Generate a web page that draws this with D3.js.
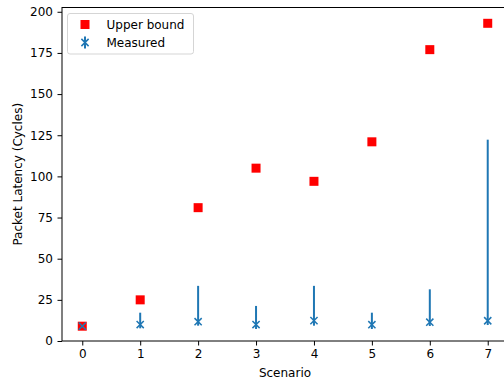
<!DOCTYPE html>
<html>
<head>
<meta charset="utf-8">
<script src="https://cdn.jsdelivr.net/npm/d3@7"></script>
<style>
  html, body { margin: 0; padding: 0; background: #fff; }
  svg { display: block; font-family: "DejaVu Sans", sans-serif; }
</style>
</head>
<body>
<svg id="chart" width="504" height="381"></svg>
<script>
const scenarios = [0, 1, 2, 3, 4, 5, 6, 7];
const upperBound = [9, 25, 81, 105, 97, 121, 177, 193];
const measured = [9, 10, 11.7, 10, 12.4, 9.9, 11.4, 12.3];
const measuredMin = [9, 7.7, 9.3, 7.3, 9.3, 7.3, 9.1, 9.7];
const measuredMax = [9, 17.2, 33.5, 21.3, 33.5, 17.2, 31.4, 122.3];
const yTicks = [0, 25, 50, 75, 100, 125, 150, 175, 200];
const xLabel = "Scenario";
const yLabel = "Packet Latency (Cycles)";
const legendLabels = ["Upper bound", "Measured"];

(function () {
const svg = d3.select("#chart");
const mLeft = 62, mRight = 508, mTop = 7.5, mBottom = 341;
const fs = 12;

const x = d3.scaleLinear().domain([-0.35, 7.35]).range([mLeft, mRight]);
const y = d3.scaleLinear().domain([0, 202.6]).range([mBottom, mTop]);

const blue = "#1f77b4";

// axes
const xAxis = svg.append("g").attr("transform", `translate(0,${mBottom})`)
  .call(d3.axisBottom(x).tickValues(scenarios).tickFormat(d3.format("d")).tickSizeOuter(0).tickSize(4.5).tickPadding(4));
const yAxis = svg.append("g").attr("transform", `translate(${mLeft},0)`)
  .call(d3.axisLeft(y).tickValues(yTicks).tickSizeOuter(0).tickSize(4.5).tickPadding(4.5));
[xAxis, yAxis].forEach(g => {
  g.select(".domain").remove();
  g.selectAll(".tick line").attr("stroke", "#000").attr("stroke-width", 1);
  g.selectAll(".tick text").attr("font-size", fs).attr("fill", "#000")
    .attr("font-family", "DejaVu Sans, sans-serif");
});

// spines
svg.append("rect").attr("x", mLeft).attr("y", mTop)
  .attr("width", mRight - mLeft).attr("height", mBottom - mTop)
  .attr("fill", "none").attr("stroke", "#000").attr("stroke-width", 1);

// axis labels
svg.append("text").attr("x", (mLeft + mRight) / 2).attr("y", 376.5)
  .attr("text-anchor", "middle").attr("font-size", fs).text(xLabel);
svg.append("text").attr("transform", `translate(22,${(mTop + mBottom) / 2}) rotate(-90)`)
  .attr("text-anchor", "middle").attr("font-size", fs).text(yLabel);

// upper bound squares
const sq = 9;
svg.append("g").selectAll("rect").data(scenarios).join("rect")
  .attr("x", (d, i) => x(d) - sq / 2)
  .attr("y", (d, i) => y(upperBound[i]) - sq / 2)
  .attr("width", sq).attr("height", sq)
  .attr("fill", "red");

// error bars
const eb = svg.append("g");
eb.selectAll("line").data(scenarios).join("line")
  .attr("x1", d => x(d)).attr("x2", d => x(d))
  .attr("y1", (d, i) => y(measuredMin[i]))
  .attr("y2", (d, i) => y(measuredMax[i]))
  .attr("stroke", blue).attr("stroke-width", 2);

// x markers
const xs = 3.6;
function xMark(g, cx, cy) {
  g.append("path")
    .attr("d", `M${cx - xs},${cy - xs}L${cx + xs},${cy + xs}M${cx - xs},${cy + xs}L${cx + xs},${cy - xs}`)
    .attr("stroke", blue).attr("stroke-width", 1.5).attr("fill", "none");
}
const mg = svg.append("g");
scenarios.forEach((d, i) => xMark(mg, x(d), y(measured[i])));

// legend
const lg = svg.append("g");
lg.append("rect").attr("x", 67.5).attr("y", 13.5).attr("width", 126).attr("height", 40.5)
  .attr("rx", 2.5).attr("fill", "#fff").attr("fill-opacity", 0.8)
  .attr("stroke", "#d5d5d5").attr("stroke-width", 1);
lg.append("rect").attr("x", 85 - sq / 2).attr("y", 24.5 - sq / 2)
  .attr("width", sq).attr("height", sq).attr("fill", "red");
lg.append("line").attr("x1", 85).attr("x2", 85).attr("y1", 36.5).attr("y2", 48.5)
  .attr("stroke", blue).attr("stroke-width", 2);
xMark(lg, 85, 42.5);
lg.append("text").attr("x", 106.5).attr("y", 28.5).attr("font-size", fs).text(legendLabels[0]);
lg.append("text").attr("x", 106.5).attr("y", 46.5).attr("font-size", fs).text(legendLabels[1]);
})();
</script>
</body>
</html>
